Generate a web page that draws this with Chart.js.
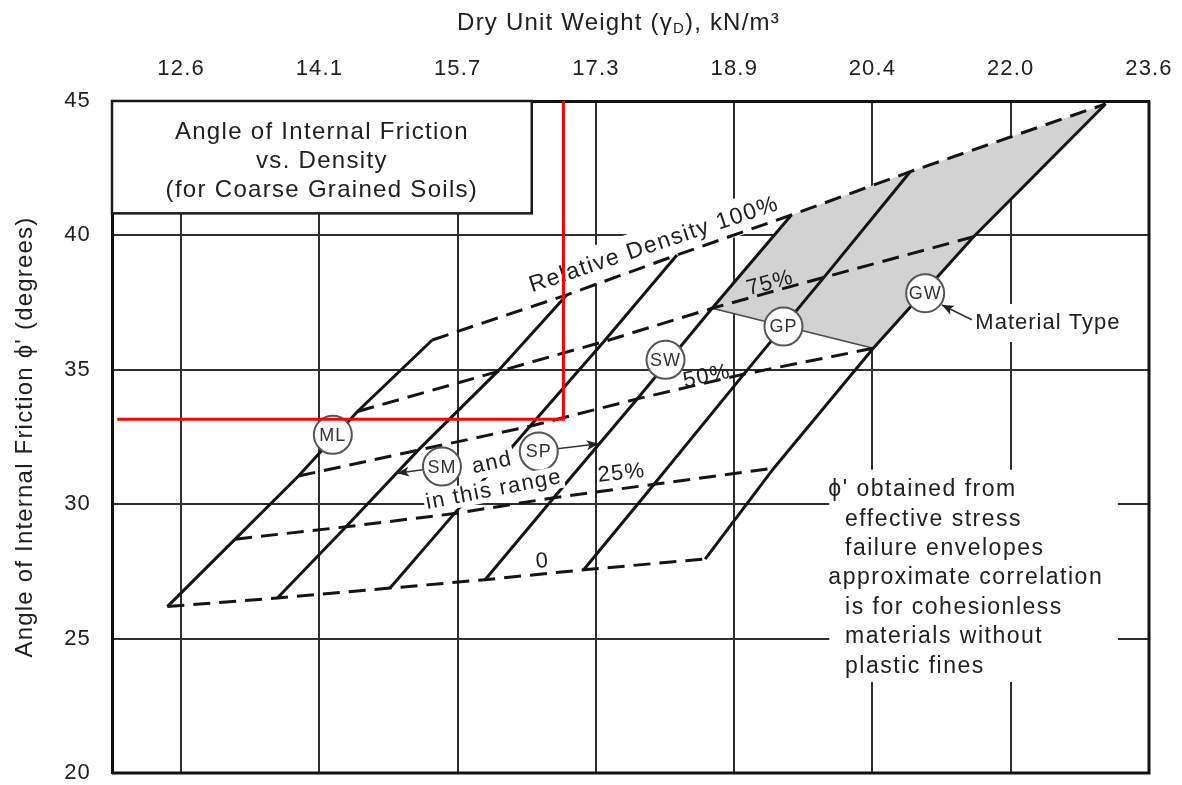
<!DOCTYPE html>
<html>
<head>
<meta charset="utf-8">
<title>Angle of Internal Friction vs. Density</title>
<script src="https://cdn.jsdelivr.net/npm/chart.js@4.4.1/dist/chart.umd.min.js"></script>
<style>
  html, body { margin: 0; padding: 0; background: #fff; }
  canvas { display: block; }
</style>
</head>
<body>
<canvas id="chart" width="1182" height="785"></canvas>
<script>
const FONT = '"Liberation Sans", Arial, Helvetica, sans-serif';
const INK = '#202020';

// Axes: dry unit weight (kN/m³) and friction angle (degrees)
const xTickValues = [12.567, 14.138, 15.709, 17.280, 18.851, 20.421, 21.992, 23.563];
const xLimits = [11.781, 23.563];
const yLimits = [20, 45];
const yStep = 5;

// Relative density of the dashed contours
const densityLevels = ['0', '25%', '50%', '75%', '100%'];

// Material lines, finest (ML) to coarsest (GW):
// dry unit weight and phi' at relative density 0, 25, 50, 75 and 100 %
const line1Weight = [12.41, 13.18, 13.90, 14.57, 15.42];
const line1Phi    = [26.19, 28.70, 31.05, 33.45, 36.11];
const line2Weight = [13.66, 14.44, 15.26, 16.16, 16.95];
const line2Phi    = [26.51, 29.16, 32.01, 34.93, 37.79];
const line3Weight = [14.94, 15.67, 16.53, 17.37, 18.20];
const line3Phi    = [26.88, 29.65, 32.90, 36.05, 39.27];
const line4Weight = [16.02, 16.80, 17.75, 18.60, 19.50];
const line4Phi    = [27.19, 30.24, 33.92, 37.29, 40.76];
const line5Weight = [17.14, 17.94, 18.96, 19.87, 20.85];
const line5Phi    = [27.56, 30.74, 34.84, 38.44, 42.37];
const line6Weight = [18.52, 19.30, 20.43, 21.57, 23.07];
const line6Phi    = [27.96, 31.34, 35.80, 39.95, 44.89];

// Material type markers
const materialTypes  = ['ML', 'SM', 'SP', 'SW', 'GP', 'GW'];
const materialWeight = [14.29, 15.53, 16.63, 18.07, 19.41, 21.02];
const materialPhi    = [32.58, 31.40, 31.96, 35.37, 36.61, 37.85];

// Pointer arrows: [fromWeight, fromPhi, toWeight, toPhi]
const arrowSM   = [15.31, 31.28, 15.02, 31.15];
const arrowSP   = [16.84, 32.06, 17.31, 32.25];
const arrowType = [21.55, 36.86, 21.21, 37.41];

// Red read-off guide
const guideWeight = [11.84, 16.91, 16.91];
const guidePhi    = [33.16, 33.16, 45];

// ---- build the series -------------------------------------------------
const pt = (w, p) => ({ x: w, y: p });
const materialLines = [
  [line1Weight, line1Phi], [line2Weight, line2Phi], [line3Weight, line3Phi],
  [line4Weight, line4Phi], [line5Weight, line5Phi], [line6Weight, line6Phi]
];
const lineData = materialLines.map(([w, p]) => w.map((v, k) => pt(v, p[k])));
const contourData = densityLevels.map((_, k) => materialLines.map(([w, p]) => pt(w[k], p[k])));
// gravel zone: up line 4 from 75 %, along the 100 % contour, down line 6 to 50 %
const gravelZone = [lineData[3][3], lineData[3][4], lineData[4][4], lineData[5][4], lineData[5][3], lineData[5][2]];
const gpDivider = [lineData[3][3], lineData[5][2]];

const datasets = [];
datasets.push({ label: 'gravel zone', data: gravelZone, fill: 'shape', backgroundColor: '#d2d2d2',
  borderWidth: 0, borderColor: 'rgba(0,0,0,0)', pointRadius: 0, order: 30 });
datasets.push({ label: 'GP divider', data: gpDivider, borderColor: '#4a4a4a', borderWidth: 1.6,
  pointRadius: 0, fill: false, order: 25 });
lineData.forEach((d, i) => datasets.push({ label: 'material line ' + (i + 1), data: d,
  borderColor: '#141414', borderWidth: 3, pointRadius: 0, fill: false, order: 20 }));
contourData.forEach((d, k) => datasets.push({ label: 'relative density ' + densityLevels[k], data: d,
  borderColor: '#141414', borderWidth: 3, borderDash: [17, 9], pointRadius: 0, fill: false, order: 20 }));
[arrowSM, arrowSP, arrowType].forEach((a, i) => datasets.push({ label: 'arrow ' + i, arrow: true,
  data: [pt(a[0], a[1]), pt(a[2], a[3])], borderColor: '#333', borderWidth: 1.6,
  pointRadius: 0, fill: false, order: 15 }));
datasets.push({ label: 'material type', data: materialWeight.map((w, i) => pt(w, materialPhi[i])),
  showLine: false, pointRadius: 19, pointBackgroundColor: '#fff', pointBorderColor: '#555',
  pointBorderWidth: 2, order: 5 });
datasets.push({ label: 'guide', data: guideWeight.map((w, i) => pt(w, guidePhi[i])),
  borderColor: '#ff0000', borderWidth: 3, pointRadius: 0, fill: false, order: 0 });

// ---- annotation layout (data coordinates) ------------------------------
const notes = {
  titleBox: { x1: xLimits[0], x2: 16.55, y1: 40.82, y2: 45,
    lines: ['Angle of Internal Friction', 'vs. Density', '(for Coarse Grained Soils)'] },
  relDensity: { text: 'Relative Density 100%', x: 17.94, y: 39.65, angle: -18.5, size: 23, spacing: 1.45, bg: [4, 7] },
  contourLabels: [
    { x: 16.67, y: 27.87, angle: -5 },
    { x: 17.57, y: 31.15, angle: -6 },
    { x: 18.54, y: 34.75, angle: -12 },
    { x: 19.26, y: 38.22, angle: -15 }
  ],
  andLabel: { text: 'and', x: 16.10, y: 31.53, angle: -12, size: 22, bg: [2, 2] },
  rangeLabel: { text: 'in this range', x: 16.12, y: 30.53, angle: -11, size: 22, bg: [2, 0] },
  materialType: { text: 'Material Type', x: 21.59, y: 36.74, size: 22, spacing: 1, align: 'left', bg: [3, 8] },
  noteBlock: { x1: 19.93, x2: 23.21, y1: 23.39, y2: 31.28, top: 30.53, step: 1.093,
    lines: [
      ["\u03d5' obtained from", 19.92],
      ['effective stress', 20.11],
      ['failure envelopes', 20.11],
      ['approximate correlation', 19.92],
      ['is for cohesionless', 20.11],
      ['materials without', 20.11],
      ['plastic fines', 20.11]
    ] }
};

function drawText(ctx, str, x, y, o = {}) {
  const size = o.size || 23;
  ctx.save();
  ctx.translate(x, y);
  if (o.angle) ctx.rotate(o.angle * Math.PI / 180);
  ctx.font = size + 'px ' + FONT;
  ctx.letterSpacing = (o.spacing ?? 1.4) + 'px';
  ctx.textAlign = o.align || 'center';
  ctx.textBaseline = 'middle';
  if (o.bg) {
    const w = ctx.measureText(str).width;
    const left = o.align === 'left' ? 0 : -w / 2;
    ctx.fillStyle = '#fff';
    ctx.fillRect(left - o.bg[0], -size / 2 - o.bg[1], w + 2 * o.bg[0], size + 2 * o.bg[1]);
  }
  ctx.fillStyle = o.color || INK;
  ctx.fillText(str, 0, 0);
  ctx.restore();
}

const soilNotes = {
  id: 'soilNotes',
  beforeDraw(chart) {
    chart.ctx.letterSpacing = '1.2px';
  },
  beforeDatasetsDraw(chart) {
    const { ctx, chartArea: a, scales: { x, y } } = chart;
    ctx.save();
    // right and bottom edges of the frame
    ctx.strokeStyle = '#111';
    ctx.lineWidth = 3;
    ctx.beginPath();
    ctx.moveTo(a.right, a.top);
    ctx.lineTo(a.right, a.bottom);
    ctx.lineTo(a.left, a.bottom);
    ctx.stroke();

    // title box
    const t = notes.titleBox;
    const bx1 = x.getPixelForValue(t.x1), bx2 = x.getPixelForValue(t.x2);
    const by1 = y.getPixelForValue(t.y2), by2 = y.getPixelForValue(t.y1);
    ctx.fillStyle = '#fff';
    ctx.fillRect(bx1, by1, bx2 - bx1, by2 - by1);
    ctx.lineWidth = 2.5;
    ctx.strokeStyle = '#1a1a1a';
    ctx.strokeRect(bx1, by1, bx2 - bx1, by2 - by1);
    t.lines.forEach((s, i) => drawText(ctx, s, (bx1 + bx2) / 2, by1 + 31 + i * 29, { size: 24, spacing: 1.3 }));

    // note block with its white patch
    const n = notes.noteBlock;
    const nx1 = x.getPixelForValue(n.x1), nx2 = x.getPixelForValue(n.x2);
    const ny1 = y.getPixelForValue(n.y2), ny2 = y.getPixelForValue(n.y1);
    ctx.fillStyle = '#fff';
    ctx.fillRect(nx1, ny1, nx2 - nx1, ny2 - ny1);
    n.lines.forEach(([s, lx], i) => drawText(ctx, s, x.getPixelForValue(lx),
      y.getPixelForValue(n.top - i * n.step), { size: 23, spacing: 1.5, align: 'left' }));

    const r = notes.relDensity;
    drawText(ctx, r.text, x.getPixelForValue(r.x), y.getPixelForValue(r.y), r);
    const m = notes.materialType;
    drawText(ctx, m.text, x.getPixelForValue(m.x), y.getPixelForValue(m.y), m);
    ctx.restore();
  },
  afterDatasetsDraw(chart) {
    const { ctx, scales: { x, y } } = chart;
    ctx.save();
    // arrowheads
    chart.data.datasets.forEach((ds, i) => {
      if (!ds.arrow) return;
      const pts = chart.getDatasetMeta(i).data;
      const p0 = pts[0], p1 = pts[1];
      const ang = Math.atan2(p1.y - p0.y, p1.x - p0.x);
      ctx.save();
      ctx.translate(p1.x, p1.y);
      ctx.rotate(ang);
      ctx.fillStyle = '#222';
      ctx.beginPath();
      ctx.moveTo(0, 0);
      ctx.lineTo(-12, -5);
      ctx.lineTo(-9, 0);
      ctx.lineTo(-12, 5);
      ctx.closePath();
      ctx.fill();
      ctx.restore();
    });
    // material type codes inside the circles
    const circleMeta = chart.getDatasetMeta(chart.data.datasets.findIndex(d => d.label === 'material type'));
    circleMeta.data.forEach((p, i) => drawText(ctx, materialTypes[i], p.x, p.y + 1, { size: 18, spacing: 1, color: '#333' }));
    // contour values
    notes.contourLabels.forEach((c, k) => drawText(ctx, densityLevels[k], x.getPixelForValue(c.x),
      y.getPixelForValue(c.y), { size: 22, spacing: 1.2, angle: c.angle }));
    const aL = notes.andLabel, rL = notes.rangeLabel;
    drawText(ctx, aL.text, x.getPixelForValue(aL.x), y.getPixelForValue(aL.y), aL);
    drawText(ctx, rL.text, x.getPixelForValue(rL.x), y.getPixelForValue(rL.y), rL);
    ctx.restore();
  },
  afterDraw(chart) {
    const { ctx, chartArea: a } = chart;
    // x-axis title with subscript D
    ctx.save();
    ctx.letterSpacing = '1.2px';
    ctx.textBaseline = 'middle';
    ctx.textAlign = 'left';
    ctx.fillStyle = INK;
    const big = '24px ' + FONT, small = '15px ' + FONT;
    const parts = [['Dry Unit Weight (\u03b3', big, 0], ['D', small, 6], ['), kN/m\u00b3', big, 0]];
    let total = 0;
    parts.forEach(([s, f]) => { ctx.font = f; total += ctx.measureText(s).width; });
    let cx = (a.left + a.right) / 2 - 12 - total / 2;
    parts.forEach(([s, f, dy]) => { ctx.font = f; ctx.fillText(s, cx, 23 + dy); cx += ctx.measureText(s).width; });
    ctx.restore();
  }
};

new Chart(document.getElementById('chart'), {
  type: 'line',
  data: { datasets },
  plugins: [soilNotes],
  options: {
    responsive: false,
    animation: false,
    devicePixelRatio: 1,
    events: [],
    layout: { autoPadding: false, padding: { left: 0, top: 0, right: 33, bottom: 12 } },
    plugins: { legend: { display: false }, tooltip: { enabled: false } },
    scales: {
      x: {
        type: 'linear',
        position: 'top',
        min: xLimits[0],
        max: xLimits[1],
        afterBuildTicks: s => { s.ticks = xTickValues.map(v => ({ value: v })); },
        afterFit: s => { s.height = 101; s.paddingLeft = 0; s.paddingRight = 0; },
        ticks: { callback: v => v.toFixed(1), font: { size: 22, family: FONT }, color: INK,
          padding: 19, maxRotation: 0, autoSkip: false },
        grid: { color: '#2e2e2e', lineWidth: 2, drawTicks: false },
        border: { color: '#111', width: 3 }
      },
      y: {
        type: 'linear',
        min: yLimits[0],
        max: yLimits[1],
        ticks: { stepSize: yStep, font: { size: 22, family: FONT }, color: INK, padding: 21 },
        afterFit: s => { s.width = 112; s.paddingTop = 0; s.paddingBottom = 0; },
        grid: { color: '#2e2e2e', lineWidth: 2, drawTicks: false },
        border: { color: '#111', width: 3 },
        title: { display: true, text: "Angle of Internal Friction \u03d5' (degrees)",
          font: { size: 24, family: FONT }, color: INK, padding: { top: 11, bottom: 0 } }
      }
    }
  }
});
</script>
</body>
</html>
